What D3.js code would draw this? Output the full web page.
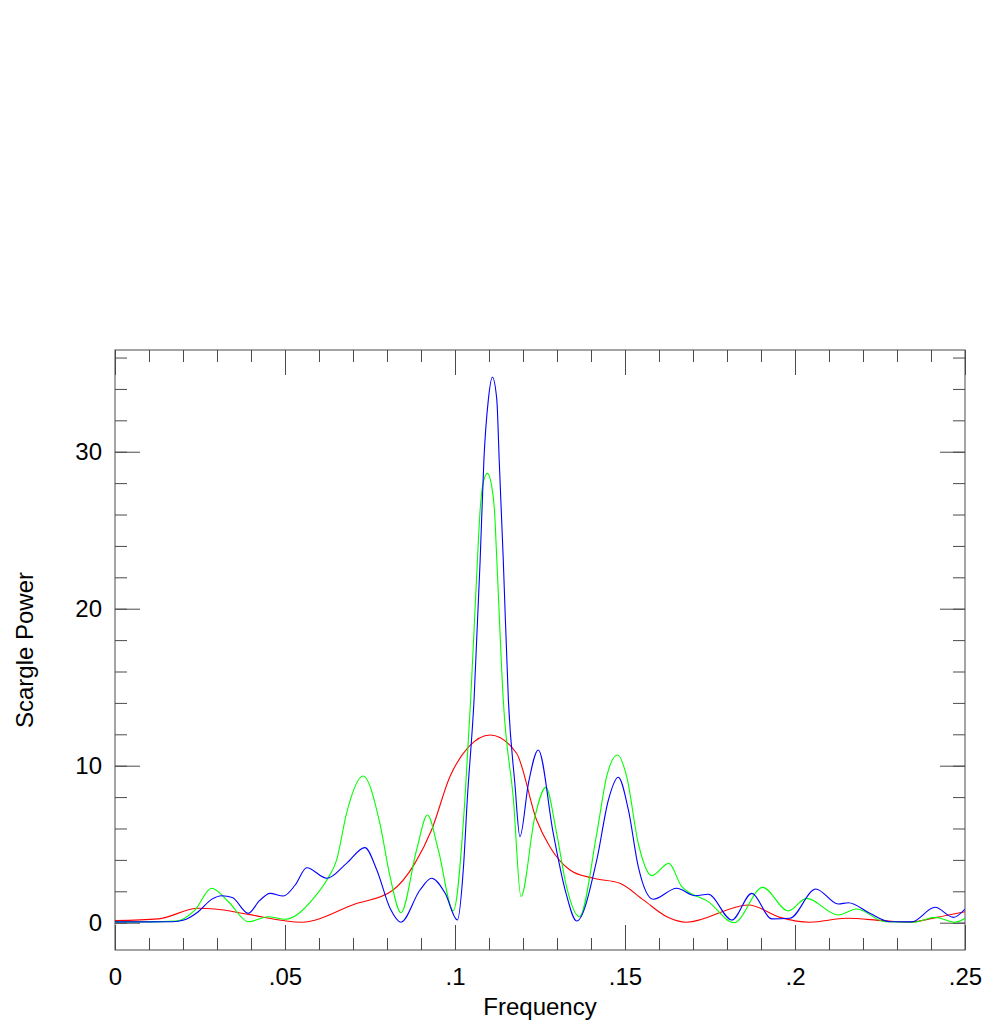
<!DOCTYPE html>
<html>
<head>
<meta charset="utf-8">
<script src="https://cdn.jsdelivr.net/npm/d3@7"></script>
<style>
  html, body { margin: 0; padding: 0; background: #fff; }
  svg { display: block; }
  text { font-family: "Liberation Sans", Arial, Helvetica, sans-serif; }
</style>
</head>
<body>
<svg id="chart" width="1007" height="1031"></svg>
<script>
// ---- Data (frequency, Scargle power) ----
const blueFreq = [0, 0.010, 0.017, 0.020, 0.0245, 0.0285, 0.0314, 0.0345, 0.0392, 0.0425, 0.0456, 0.0495, 0.0530, 0.0564, 0.0623, 0.0681, 0.0735, 0.0770, 0.0809, 0.0841, 0.0897, 0.0931, 0.0971, 0.1007, 0.1025, 0.1036, 0.1056, 0.1074, 0.1085, 0.1098, 0.1110, 0.1123, 0.1130, 0.1142, 0.1157, 0.1176, 0.1191, 0.1216, 0.1245, 0.1289, 0.1324, 0.1358, 0.1417, 0.1451, 0.1480, 0.1510, 0.1539, 0.1583, 0.1652, 0.1706, 0.1745, 0.1814, 0.1873, 0.1931, 0.1985, 0.2061, 0.2127, 0.2157, 0.2220, 0.2279, 0.2343, 0.2412, 0.2466, 0.2500];
const blueVals = [0.05, 0.05, 0.06, 0.15, 0.7, 1.5, 1.72, 1.6, 0.6, 1.4, 1.87, 1.7, 2.4, 3.5, 2.83, 3.78, 4.78, 3.36, 0.92, 0.03, 2.08, 2.83, 1.87, 0.17, 3.57, 7.8, 14.18, 23.1, 29.47, 33.3, 34.74, 33.3, 29.47, 23.1, 14.18, 8.88, 5.48, 8.88, 11.0, 5.69, 2.08, 0.11, 4.0, 7.8, 9.26, 7.18, 3.57, 1.49, 2.19, 1.72, 1.81, 0.17, 1.87, 0.24, 0.28, 2.15, 1.19, 1.27, 0.6, 0.06, 0.05, 0.98, 0.34, 0.87];

const greenFreq = [0, 0.010, 0.018, 0.0235, 0.0284, 0.0335, 0.0392, 0.0451, 0.0500, 0.0588, 0.0623, 0.0652, 0.0681, 0.0730, 0.0779, 0.0809, 0.0841, 0.0887, 0.0919, 0.0951, 0.0995, 0.1029, 0.1046, 0.1066, 0.1074, 0.1081, 0.1095, 0.1108, 0.1116, 0.1123, 0.1142, 0.1172, 0.1194, 0.1235, 0.1267, 0.1299, 0.1328, 0.1366, 0.1417, 0.1446, 0.1478, 0.1505, 0.1539, 0.1579, 0.1629, 0.1667, 0.1745, 0.1821, 0.1905, 0.1980, 0.2034, 0.2127, 0.2181, 0.2265, 0.2350, 0.2412, 0.2470, 0.2500];
const greenVals = [0.05, 0.05, 0.1, 0.8, 2.19, 1.3, 0.06, 0.38, 0.22, 1.66, 2.72, 4.0, 6.97, 9.34, 6.33, 2.93, 0.64, 4.63, 6.86, 4.63, 0.76, 7.8, 14.18, 23.1, 26.3, 27.8, 28.62, 27.8, 26.3, 23.1, 14.18, 7.8, 1.66, 6.75, 8.62, 5.69, 2.29, 0.38, 5.69, 9.3, 10.68, 9.3, 5.06, 3.0, 3.78, 2.29, 1.34, 0.0, 2.25, 0.75, 1.55, 0.49, 0.87, 0.06, 0.03, 0.34, 0.03, 0.28];

const redFreq = [0, 0.0127, 0.0245, 0.0294, 0.0392, 0.0549, 0.0706, 0.0814, 0.0882, 0.0931, 0.0985, 0.1040, 0.1104, 0.1181, 0.1240, 0.1279, 0.1338, 0.1407, 0.1485, 0.1554, 0.1623, 0.1681, 0.1863, 0.1956, 0.2044, 0.2152, 0.2260, 0.2338, 0.2417, 0.2500];
const redVals = [0.13, 0.24, 0.92, 0.87, 0.53, 0.03, 1.19, 2.02, 3.78, 5.9, 9.3, 11.2, 11.96, 10.79, 6.54, 4.84, 3.36, 2.83, 2.51, 1.45, 0.38, 0.03, 1.13, 0.34, 0.03, 0.28, 0.13, 0.04, 0.34, 0.7];

const seriesColors = ["#ff0000", "#00ff00", "#0000ff"];

const xMajorTicks = [0, 0.05, 0.10, 0.15, 0.20, 0.25];
const xTickLabels = ["0", ".05", ".1", ".15", ".2", ".25"];
const yMajorTicks = [0, 10, 20, 30];
const yTickLabels = ["0", "10", "20", "30"];

const xTitle = "Frequency";
const yTitle = "Scargle Power";

// ---- Layout ----
const margin = { left: 115, top: 350, right: 42, bottom: 81 };
const W = 1007, H = 1031;
const iw = W - margin.left - margin.right; // 850
const ih = H - margin.top - margin.bottom; // 600

const x = d3.scaleLinear().domain([0, 0.25]).range([0, iw]);
const y = d3.scaleLinear().domain([-1.74, 36.48]).range([ih, 0]);

const svg = d3.select("#chart");
const g = svg.append("g").attr("transform", `translate(${margin.left},${margin.top})`);

const axisColor = "#4a4a4a";
const fontSize = 24;

const xMinor = d3.range(0, 0.2501, 0.01);
const yMinor = d3.range(0, 36.01, 2);

function styleAxis(sel) {
  sel.select(".domain").remove();
  sel.selectAll("line").attr("stroke", axisColor).attr("stroke-width", 1);
  sel.selectAll("text").attr("font-size", fontSize).attr("fill", "#000")
     .attr("font-family", '"Liberation Sans", Arial, Helvetica, sans-serif');
}

// Bottom
g.append("g").attr("transform", `translate(0,${ih})`)
  .call(d3.axisBottom(x).tickValues(xMinor).tickSize(-12).tickFormat(""))
  .call(styleAxis);
g.append("g").attr("transform", `translate(0,${ih})`)
  .call(d3.axisBottom(x).tickValues(xMajorTicks).tickSize(-25).tickPadding(18)
        .tickFormat((d, i) => xTickLabels[i]))
  .call(styleAxis);
// Top
g.append("g")
  .call(d3.axisTop(x).tickValues(xMinor).tickSize(-12).tickFormat(""))
  .call(styleAxis);
g.append("g")
  .call(d3.axisTop(x).tickValues(xMajorTicks).tickSize(-25).tickFormat(""))
  .call(styleAxis);
// Left
g.append("g")
  .call(d3.axisLeft(y).tickValues(yMinor).tickSize(-12).tickFormat(""))
  .call(styleAxis);
g.append("g")
  .call(d3.axisLeft(y).tickValues(yMajorTicks).tickSize(-25).tickPadding(13)
        .tickFormat((d, i) => yTickLabels[i]))
  .call(styleAxis);
// Right
g.append("g").attr("transform", `translate(${iw},0)`)
  .call(d3.axisRight(y).tickValues(yMinor).tickSize(-12).tickFormat(""))
  .call(styleAxis);
g.append("g").attr("transform", `translate(${iw},0)`)
  .call(d3.axisRight(y).tickValues(yMajorTicks).tickSize(-25).tickFormat(""))
  .call(styleAxis);

// Frame
g.append("rect").attr("x", 0).attr("y", 0).attr("width", iw).attr("height", ih)
  .attr("fill", "none").attr("stroke", axisColor).attr("stroke-width", 1);

// Clip
svg.append("defs").append("clipPath").attr("id", "plotclip")
  .append("rect").attr("x", 0).attr("y", 0).attr("width", iw).attr("height", ih);

const line = d3.line()
  .x(d => x(d[0]))
  .y(d => y(d[1]))
  .curve(d3.curveMonotoneX);

const series = [
  { f: redFreq, v: redVals, color: seriesColors[0] },
  { f: greenFreq, v: greenVals, color: seriesColors[1] },
  { f: blueFreq, v: blueVals, color: seriesColors[2] }
];

const plot = g.append("g").attr("clip-path", "url(#plotclip)");
series.forEach(s => {
  const pts = s.f.map((f, i) => [f, s.v[i]]);
  plot.append("path").datum(pts)
    .attr("fill", "none")
    .attr("stroke", s.color)
    .attr("stroke-width", 1.1)
    .attr("d", line);
});

// Titles
svg.append("text")
  .attr("x", margin.left + iw / 2).attr("y", 1015)
  .attr("text-anchor", "middle").attr("font-size", fontSize).attr("fill", "#000")
  .text(xTitle);

svg.append("text")
  .attr("transform", `translate(33,${margin.top + ih / 2}) rotate(-90)`)
  .attr("text-anchor", "middle").attr("font-size", fontSize).attr("fill", "#000")
  .text(yTitle);
</script>
</body>
</html>
